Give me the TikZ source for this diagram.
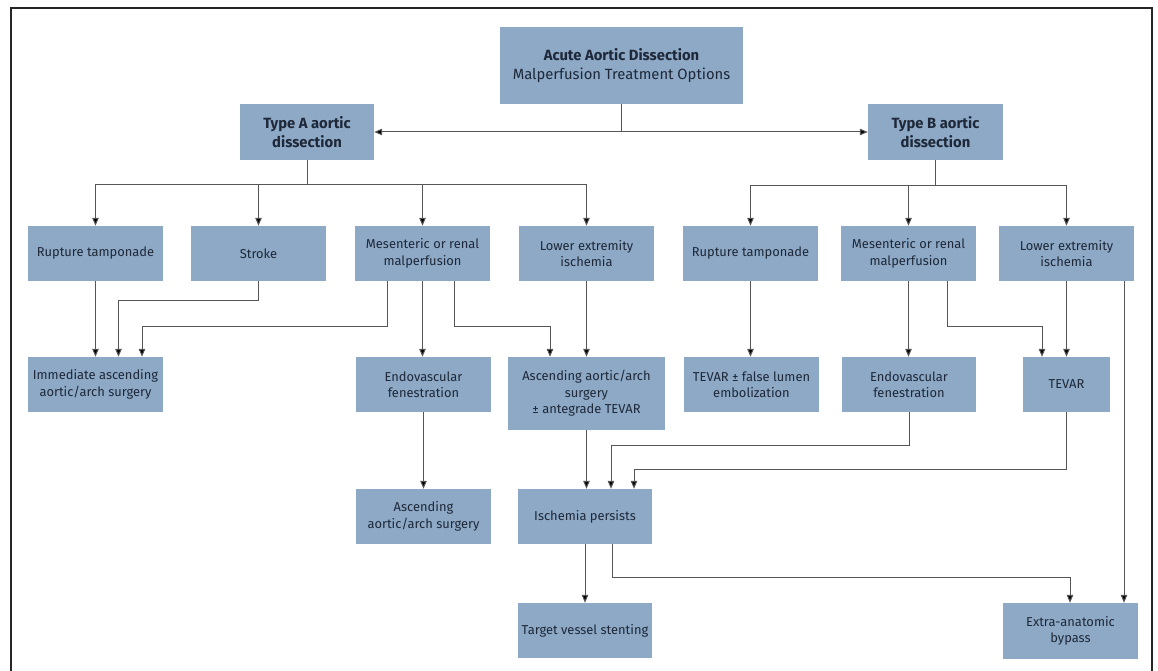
\documentclass[tikz,border=0pt]{standalone}
\usepackage{fontspec}
\setmainfont{Fira Sans}
\usetikzlibrary{arrows.meta}
\definecolor{boxblue}{HTML}{8DA9C6}
\definecolor{txt}{HTML}{1E2838}
\definecolor{ln}{HTML}{555555}
\begin{document}
\begin{tikzpicture}[x=1pt,y=-1pt,
  box/.style={fill=boxblue, text=txt, align=center, inner sep=0pt, font=\fontsize{12.9}{16.5}\selectfont},
  head/.style={font=\bfseries\fontsize{14.8}{19}\selectfont},
  conn/.style={draw=ln, line width=1pt, -{Triangle[length=8pt,width=6.5pt,fill=black]}},
  conn2/.style={draw=ln, line width=1pt, {Triangle[length=8pt,width=6.5pt,fill=black]}-{Triangle[length=8pt,width=6.5pt,fill=black]}},
  plain/.style={draw=ln, line width=1pt}]
\useasboundingbox (0,0) rectangle (1158,671);
\draw[line width=1.2pt, black!85] (11,672) -- (11,8) -- (1152,8) -- (1152,672);

% level 0/1
\node[box, minimum width=243pt, minimum height=77pt, font=\fontsize{14.8}{19}\selectfont] (title) at (621.5,65.5) {\textbf{Acute Aortic Dissection}\\Malperfusion Treatment Options};
\node[box, head, minimum width=134pt, minimum height=56pt] (typeA) at (307,132) {Type A aortic\\dissection};
\node[box, head, minimum width=135pt, minimum height=56pt] (typeB) at (935.5,132) {Type B aortic\\dissection};

% level 2
\node[box, minimum width=135pt, minimum height=55pt] (ra) at (95.5,253.5) {Rupture tamponade};
\node[box, minimum width=135pt, minimum height=55pt] (stroke) at (258.5,253.5) {Stroke};
\node[box, minimum width=135pt, minimum height=55pt] (mesA) at (422.5,253.5) {Mesenteric or renal\\malperfusion};
\node[box, minimum width=135pt, minimum height=55pt] (lowA) at (586.5,253.5) {Lower extremity\\ischemia};
\node[box, minimum width=135pt, minimum height=55pt] (rb) at (750.5,253.5) {Rupture tamponade};
\node[box, minimum width=135pt, minimum height=55pt] (mesB) at (908.5,253.5) {Mesenteric or renal\\malperfusion};
\node[box, minimum width=135pt, minimum height=55pt] (lowB) at (1066.5,253.5) {Lower extremity\\ischemia};

% level 3
\node[box, minimum width=135pt, minimum height=55pt] (imm) at (95.5,384.5) {Immediate ascending\\aortic/arch surgery};
\node[box, minimum width=135pt, minimum height=55pt] (endoA) at (423.5,384.5) {Endovascular\\fenestration};
\node[box, minimum width=157pt, minimum height=73pt] (asc) at (586.5,393.5) {Ascending aortic/arch\\surgery\\± antegrade TEVAR};
\node[box, minimum width=135pt, minimum height=55pt] (tevfl) at (751.5,384.5) {TEVAR ± false lumen\\embolization};
\node[box, minimum width=134pt, minimum height=55pt] (endoB) at (909,384.5) {Endovascular\\fenestration};
\node[box, minimum width=87pt, minimum height=55pt] (tevar) at (1066.5,384.5) {TEVAR};

% level 4/5
\node[box, minimum width=135pt, minimum height=55pt] (asc2) at (423.5,516.5) {Ascending\\aortic/arch surgery};
\node[box, minimum width=134pt, minimum height=55pt] (isch) at (585,516.5) {Ischemia persists};
\node[box, minimum width=134pt, minimum height=55pt] (target) at (585,630.5) {Target vessel stenting};
\node[box, minimum width=135pt, minimum height=56pt] (extra) at (1070.5,631) {Extra-anatomic\\bypass};

% connectors top
\draw[plain] (title.south) -- (title.south |- typeA.east);
\draw[conn2] (typeA.east) -- (typeB.west);

\draw[plain] (typeA.south) -- ++(0,24) coordinate (busA);
\draw[conn] (busA) -| (ra.north);
\draw[conn] (busA) -| (stroke.north);
\draw[conn] (busA) -| (mesA.north);
\draw[conn] (busA) -| (lowA.north);

\draw[plain] (typeB.south) -- ++(0,25) coordinate (busB);
\draw[conn] (busB) -| (rb.north);
\draw[conn] (busB) -| (mesB.north);
\draw[conn] (busB) -| (lowB.north);

% level 2 -> 3, type A
\draw[conn] (ra.south) -- (imm.north);
\draw[conn] (stroke.south) -- ++(0,19) -| ([xshift=23pt]imm.north);
\draw[conn] ([xshift=-35.5pt]mesA.south) -- ++(0,45) -| ([xshift=46.5pt]imm.north);
\draw[conn] (mesA.south) -- (mesA.south |- endoA.north);
\draw[conn] ([xshift=31.5pt]mesA.south) -- ++(0,45) -| ([xshift=-36.5pt]asc.north);
\draw[conn] (lowA.south) -- (asc.north);

% level 2 -> 3, type B
\draw[conn] (rb.south) -- (rb.south |- tevfl.north);
\draw[conn] (mesB.south) -- (mesB.south |- endoB.north);
\draw[conn] ([xshift=39pt]mesB.south) -- ++(0,45) -| ([xshift=-24.5pt]tevar.north);
\draw[conn] (lowB.south) -- (tevar.north);
\draw[conn] ([xshift=57.5pt]lowB.south) -- ([xshift=57.5pt]lowB.south |- extra.north);

% level 3 -> 4
\draw[conn] (endoA.south) -- (asc2.north);
\draw[conn] (asc.south) -- (asc.south |- isch.north);
\draw[conn] (endoB.south) -- ++(0,33) -| ([xshift=26pt]isch.north);
\draw[conn] (tevar.south) -- ++(0,57) -| ([xshift=49pt]isch.north);

% level 4 -> 5
\draw[conn] (isch.south) -- (target.north);
\draw[conn] ([xshift=27.7pt]isch.south) -- ++(0,33.7) -| ([xshift=-0.5pt]extra.north);
\end{tikzpicture}
\end{document}
